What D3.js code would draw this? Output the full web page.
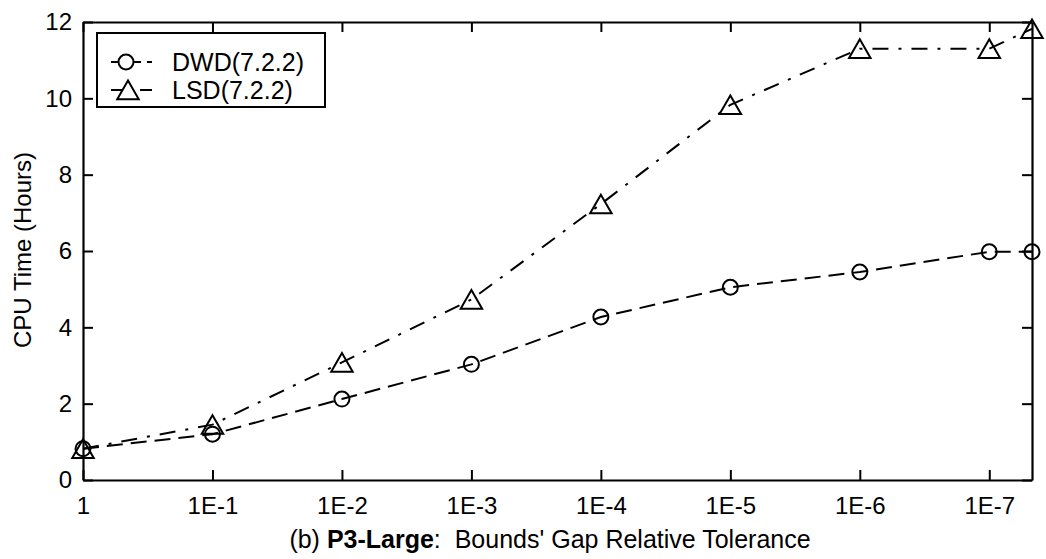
<!DOCTYPE html>
<html>
<head>
<meta charset="utf-8">
<script src="https://cdn.jsdelivr.net/npm/d3@7"></script>
<style>
  body { margin: 0; background: #fff; }
  svg { display: block; }
  text { font-family: "Liberation Sans", Arial, sans-serif; fill: #000; }
</style>
</head>
<body>
<script>
// x positions are -log10(tolerance); last point sits at the right edge
const xPos = [0, 1, 2, 3, 4, 5, 6, 7, 7.33]
const dwd = [0.82, 1.2, 2.12, 3.03, 4.27, 5.05, 5.45, 5.98, 5.98]
const lsd = [0.82, 1.45, 3.08, 4.73, 7.23, 9.83, 11.3, 11.3, 11.82]
const xTicks = [0, 1, 2, 3, 4, 5, 6, 7]
const xTickLabels = ["1", "1E-1", "1E-2", "1E-3", "1E-4", "1E-5", "1E-6", "1E-7"]
const yTicks = [0, 2, 4, 6, 8, 10, 12]
const seriesNames = ["DWD(7.2.2)", "LSD(7.2.2)"]

var width = 1046,
    height = 559;
var margin = {left: 83, right: 14, top: 22, bottom: 79};

const svg = d3.select("body").append("svg")
  .attr("width", width)
  .attr("height", height);

var x = d3.scaleLinear().domain([0, 7.33]).range([margin.left, width - margin.right]);
var y = d3.scaleLinear().domain([0, 12]).range([height - margin.bottom, margin.top]);

// axes (matlab style box with inward ticks)
const axG = svg.append("g");
axG.append("g")
  .attr("transform", `translate(0,${y(0)})`)
  .call(d3.axisBottom(x).tickValues(xTicks).tickFormat((d, i) => xTickLabels[i])
    .tickSizeInner(-10).tickSizeOuter(0).tickPadding(17));
axG.append("g")
  .attr("transform", `translate(0,${y(12)})`)
  .call(d3.axisTop(x).tickValues(xTicks).tickFormat("").tickSizeInner(-10).tickSizeOuter(0));
axG.append("g")
  .attr("transform", `translate(${x(0)},0)`)
  .call(d3.axisLeft(y).tickValues(yTicks).tickSizeInner(-10).tickSizeOuter(0).tickPadding(11));
axG.append("g")
  .attr("transform", `translate(${x(7.33)},0)`)
  .call(d3.axisRight(y).tickValues(yTicks).tickFormat("").tickSizeInner(-10).tickSizeOuter(0));
axG.selectAll("path.domain").attr("stroke", "#000").attr("stroke-width", 2.2);
axG.selectAll(".tick line").attr("stroke", "#000").attr("stroke-width", 2);
axG.selectAll(".tick text").style("font-size", "24px").attr("fill", "#000");

// series lines
const line = d3.line().x((d, i) => x(xPos[i])).y(d => y(d));
svg.append("path").datum(dwd)
  .attr("d", line).attr("fill", "none").attr("stroke", "#000")
  .attr("stroke-width", 2).attr("stroke-dasharray", "16,8");
svg.append("path").datum(lsd)
  .attr("d", line).attr("fill", "none").attr("stroke", "#000")
  .attr("stroke-width", 2).attr("stroke-dasharray", "16,10,3,10");

// triangle centred on its box like matlab's '^' marker
const tri = d3.symbol().type(d3.symbolTriangle).size(200);

svg.selectAll("circle.dwd").data(dwd).enter().append("circle")
  .attr("class", "dwd")
  .attr("cx", (d, i) => x(xPos[i])).attr("cy", d => y(d)).attr("r", 7.5)
  .attr("fill", "none").attr("stroke", "#000").attr("stroke-width", 2);
svg.selectAll("path.lsd").data(lsd).enter().append("path")
  .attr("class", "lsd")
  .attr("d", tri)
  .attr("transform", (d, i) => `translate(${x(xPos[i])},${y(d) + 3})`)
  .attr("fill", "none").attr("stroke", "#000").attr("stroke-width", 2);

// legend
const lg = svg.append("g");
lg.append("rect").attr("x", 97).attr("y", 33).attr("width", 228).attr("height", 74)
  .attr("fill", "#fff").attr("stroke", "#000").attr("stroke-width", 2);
const rows = [{name: seriesNames[0], dash: "12,6", yy: 62}, {name: seriesNames[1], dash: "14,6,3,6", yy: 90}];
rows.forEach((r, i) => {
  lg.append("line").attr("x1", 111).attr("x2", 152).attr("y1", r.yy).attr("y2", r.yy)
    .attr("stroke", "#000").attr("stroke-width", 2).attr("stroke-dasharray", r.dash);
  if (i === 0) {
    lg.append("circle").attr("cx", 126).attr("cy", r.yy).attr("r", 7.5)
      .attr("fill", "#fff").attr("stroke", "#000").attr("stroke-width", 2);
  } else {
    lg.append("path").attr("d", tri).attr("transform", `translate(128,${r.yy + 3})`)
      .attr("fill", "#fff").attr("stroke", "#000").attr("stroke-width", 2);
  }
  lg.append("text").attr("x", 172).attr("y", r.yy + 9).style("font-size", "25px").text(r.name);
});

// axis labels
svg.append("text")
  .attr("transform", "translate(31,250) rotate(-90)")
  .attr("text-anchor", "middle").style("font-size", "24px")
  .text("CPU Time (Hours)");
const xl = svg.append("text")
  .attr("x", 550).attr("y", 548).attr("text-anchor", "middle").style("font-size", "25px");
xl.append("tspan").text("(b) ");
xl.append("tspan").style("font-weight", "bold").text("P3-Large");
xl.append("tspan").text(":\u00a0 Bounds' Gap Relative Tolerance");
</script>
</body>
</html>
